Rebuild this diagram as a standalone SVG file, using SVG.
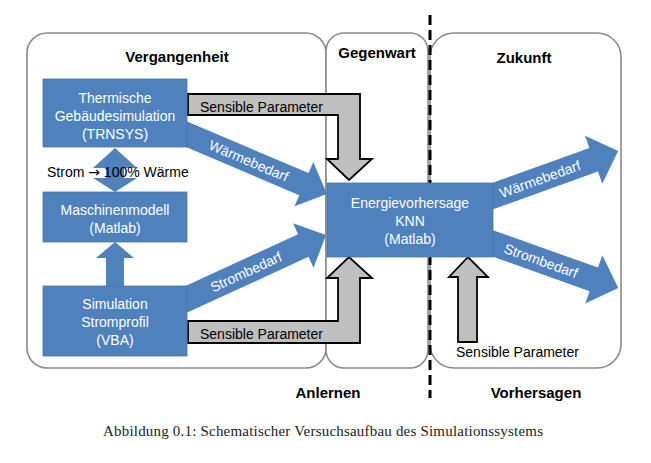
<svg xmlns="http://www.w3.org/2000/svg" width="651" height="463" viewBox="0 0 651 463">
<style>
.panel{fill:#fff;stroke:#8a8a8a;stroke-width:1.6}
.box{fill:#4f81bd;stroke:#4876b0;stroke-width:0.8}
.barrow{fill:#4f81bd;stroke:none}
.garrow{fill:#bfbfbf;stroke:#000;stroke-width:1.8;stroke-linejoin:miter}
.wt{font-family:"Liberation Sans",Arial,sans-serif;font-size:14px;fill:#fff;text-anchor:middle}
.bt{font-family:"Liberation Sans",Arial,sans-serif;font-size:14px;fill:#000}
.hd{font-family:"Liberation Sans",Arial,sans-serif;font-size:15px;font-weight:bold;fill:#000;text-anchor:middle}
.cap{font-family:"Liberation Serif","Times New Roman",serif;font-size:15px;fill:#222}
</style>
<g id="panels">
<rect id="vergangenheit" class="panel" x="27" y="33" width="299" height="335" rx="20"/>
<rect id="gegenwart" class="panel" x="326" y="33" width="102" height="335" rx="18"/>
<rect id="zukunft" class="panel" x="430" y="33" width="191" height="335" rx="24"/>
</g>
<line id="divider" x1="430" y1="15" x2="430" y2="398" stroke="#000" stroke-width="3" stroke-dasharray="10,5"/>
<g id="headings">
<text class="hd" x="177" y="62">Vergangenheit</text>
<text class="hd" x="377" y="58">Gegenwart</text>
<text class="hd" x="524" y="63">Zukunft</text>
<text class="hd" x="328" y="398">Anlernen</text>
<text class="hd" x="536" y="398">Vorhersagen</text>
</g>
<g id="connectors">
<g transform="translate(187,134.5) rotate(23)">
<path class="barrow" d="M-12,-12 H127 V-24 L152,0 L127,24 V12 H-12 Z"/>
<text class="wt" x="67" y="5">Wärmebedarf</text>
</g>
<g transform="translate(187,299) rotate(-24.7)">
<path class="barrow" d="M-12,-12.5 H128 V-24.5 L153,0 L128,24.5 V12.5 H-12 Z"/>
<text class="wt" x="65" y="5">Strombedarf</text>
</g>
<g transform="translate(493,196) rotate(-19.8)">
<path class="barrow" d="M-12,-12.5 H107 V-25.5 L133,0 L107,25.5 V12.5 H-12 Z"/>
<text class="wt" x="50" y="5">Wärmebedarf</text>
</g>
<g transform="translate(493,243.5) rotate(19.6)">
<path class="barrow" d="M-12,-12.5 H107 V-25.5 L133,0 L107,25.5 V12.5 H-12 Z"/>
<text class="wt" x="51" y="5">Strombedarf</text>
</g>
<path class="barrow" d="M106,286 V258 H96 L115,242 L134,258 H124 V286 Z"/>
<path class="barrow" d="M115,148 L137,168 H124 V178 H137 L115,192 L93,178 H106 V168 H93 Z"/>
<path class="garrow" d="M188,94 H360 V159 H372 L349,180 L327,159 H338 V115 H188 Z"/>
<text class="bt" x="200" y="112">Sensible Parameter</text>
<path class="garrow" d="M188,343 H360 V278 H372 L349,257 L327,278 H338 V321 H188 Z"/>
<text class="bt" x="200" y="339">Sensible Parameter</text>
<path class="garrow" d="M458,342 V277 H449 L468,257 L488,277 H477 V342 Z"/>
<text class="bt" x="456" y="357">Sensible Parameter</text>
<text class="bt" x="47" y="177">Strom <tspan font-family="'DejaVu Sans',sans-serif">→</tspan> 100% Wärme</text>
</g>
<g id="thermische">
<rect class="box" x="43" y="79" width="144" height="68"/>
<text class="wt" x="115" y="103">Thermische</text>
<text class="wt" x="115" y="121">Gebäudesimulation</text>
<text class="wt" x="115" y="139">(TRNSYS)</text>
</g>
<g id="maschinenmodell">
<rect class="box" x="43" y="192" width="144" height="50"/>
<text class="wt" x="115" y="215">Maschinenmodell</text>
<text class="wt" x="115" y="233">(Matlab)</text>
</g>
<g id="simulation">
<rect class="box" x="43" y="286" width="144" height="70"/>
<text class="wt" x="115" y="309">Simulation</text>
<text class="wt" x="115" y="327">Stromprofil</text>
<text class="wt" x="115" y="345">(VBA)</text>
</g>
<g id="energievorhersage">
<rect class="box" x="327" y="183" width="166" height="74"/>
<text class="wt" x="410" y="208">Energievorhersage</text>
<text class="wt" x="410" y="226">KNN</text>
<text class="wt" x="410" y="244">(Matlab)</text>
</g>
<text class="cap" x="103" y="436" textLength="440" lengthAdjust="spacing">Abbildung 0.1: Schematischer Versuchsaufbau des Simulationssystems</text>
</svg>
